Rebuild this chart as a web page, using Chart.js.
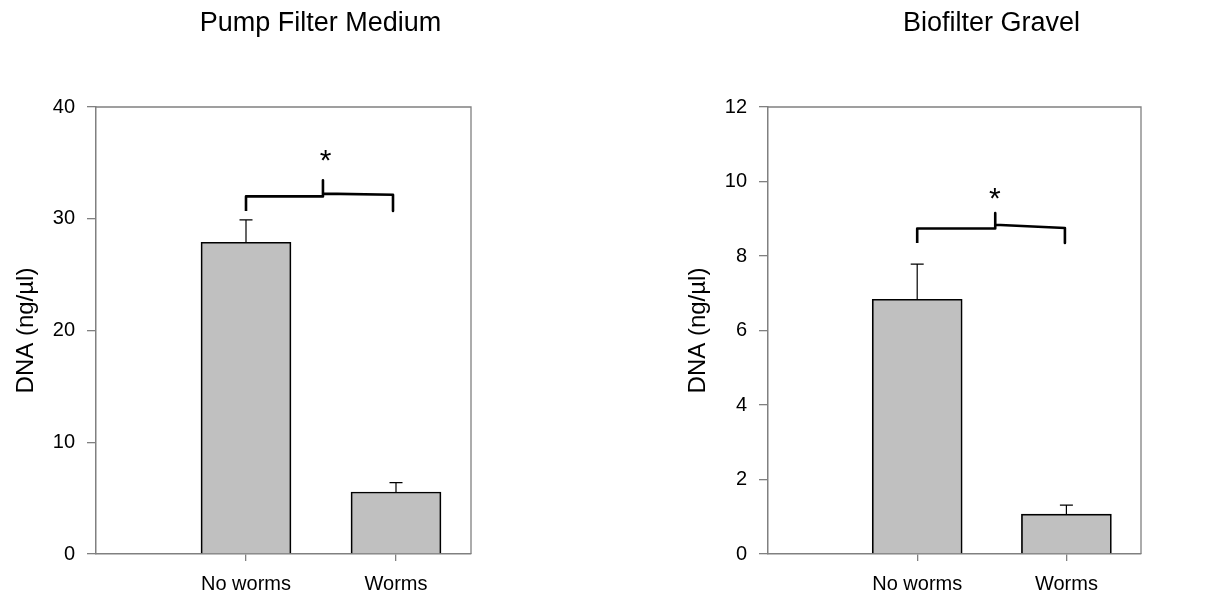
<!DOCTYPE html>
<html><head><meta charset="utf-8">
<script src="https://cdn.jsdelivr.net/npm/chart.js@4.4.0/dist/chart.umd.min.js"></script>
<style>
html,body{margin:0;padding:0;background:#fff;overflow:hidden}
#wrap{position:relative;width:1212px;height:595px}
canvas{position:absolute;top:0}
#c1{left:0}
#c2{left:606px}
</style></head><body>
<div id="wrap"><canvas id="c1" width="606" height="595"></canvas><canvas id="c2" width="606" height="595"></canvas></div>
<script>
// ---- data ----
const categories = ['No worms', 'Worms'];
const catPos = [1, 2];
const yTitle = 'DNA (ng/µl)';

const pumpTitle = 'Pump Filter Medium';
const pumpMeans = [27.9, 5.55];
const pumpErrors = [2.0, 0.83];
const pumpTicks = [0, 10, 20, 30, 40];
const pumpBracketX = [1, 1, 1.513, 1.513, 1.513, 1.98, 1.98];
const pumpBracketY = [30.7, 32.0, 32.0, 33.45, 32.25, 32.15, 30.7];
const pumpStar = [1.53, 35.7];

const gravelTitle = 'Biofilter Gravel';
const gravelMeans = [6.84, 1.07];
const gravelErrors = [0.94, 0.24];
const gravelTicks = [0, 2, 4, 6, 8, 10, 12];
const gravelBracketX = [1, 1, 1.523, 1.523, 1.523, 1.99, 1.99];
const gravelBracketY = [8.35, 8.74, 8.74, 9.15, 8.84, 8.75, 8.35];
const gravelStar = [1.52, 9.69];

// ---- rendering ----
const FONT = '"Liberation Sans", Arial, sans-serif';
Chart.defaults.font.family = FONT;
Chart.defaults.color = '#000';

const panelTitle = {
  id: 'panelTitle',
  afterDraw(chart, args, o) {
    const ctx = chart.ctx, ca = chart.chartArea;
    ctx.save();
    ctx.font = o.size + 'px ' + FONT;
    ctx.fillStyle = '#000';
    ctx.textAlign = 'center';
    ctx.textBaseline = 'alphabetic';
    ctx.fillText(o.text, (ca.left + ca.right) / 2 + o.offsetX, o.baseline);
    ctx.restore();
  }
};

const frame = {
  id: 'frame',
  beforeDatasetsDraw(chart, args, o) {
    const ctx = chart.ctx, ca = chart.chartArea;
    ctx.save();
    ctx.strokeStyle = o.color;
    ctx.lineWidth = o.width;
    ctx.beginPath();
    ctx.moveTo(ca.left, ca.top);
    ctx.lineTo(ca.right, ca.top);
    ctx.lineTo(ca.right, ca.bottom);
    ctx.stroke();
    ctx.restore();
  }
};

const errorBars = {
  id: 'errorBars',
  afterDatasetsDraw(chart, args, o) {
    const ctx = chart.ctx, xs = chart.scales.x, ys = chart.scales.y;
    ctx.save();
    ctx.strokeStyle = '#000';
    ctx.lineWidth = o.width;
    o.means.forEach((m, i) => {
      const px = xs.getPixelForValue(catPos[i]);
      const y0 = ys.getPixelForValue(m);
      const y1 = ys.getPixelForValue(m + o.errors[i]);
      ctx.beginPath();
      ctx.moveTo(px, y0); ctx.lineTo(px, y1);
      ctx.moveTo(px - o.cap, y1); ctx.lineTo(px + o.cap, y1);
      ctx.stroke();
    });
    ctx.restore();
  }
};

const star = {
  id: 'star',
  afterDatasetsDraw(chart, args, o) {
    const ctx = chart.ctx;
    const px = chart.scales.x.getPixelForValue(o.pos[0]);
    const py = chart.scales.y.getPixelForValue(o.pos[1]);
    ctx.save();
    ctx.font = o.size + 'px ' + FONT;
    ctx.fillStyle = '#000';
    ctx.textAlign = 'center';
    ctx.textBaseline = 'alphabetic';
    const m = ctx.measureText('*');
    const asc = m.actualBoundingBoxAscent, desc = m.actualBoundingBoxDescent;
    ctx.fillText('*', px, py + (asc - desc) / 2);
    ctx.restore();
  }
};

function makeChart(id, title, means, errors, ticks, bx, by, starPos, padLeft, padRight) {
  const yMax = ticks[ticks.length - 1];
  return new Chart(document.getElementById(id), {
    data: {
      datasets: [
        {
          type: 'bar',
          data: catPos.map((x, i) => ({x: x, y: means[i]})),
          backgroundColor: '#c0c0c0',
          borderColor: '#000',
          borderWidth: 1.7,
          barThickness: 90
        },
        {
          type: 'line',
          data: bx.map((x, i) => ({x: x, y: by[i]})),
          borderColor: '#000',
          borderWidth: 2.6,
          pointRadius: 0,
          fill: false,
          tension: 0,
          borderJoinStyle: 'round'
        }
      ]
    },
    options: {
      responsive: false,
      animation: false,
      devicePixelRatio: 1,
      layout: {padding: {top: 107, bottom: 0, left: padLeft, right: padRight}},
      plugins: {
        legend: {display: false},
        tooltip: {enabled: false},
        panelTitle: {text: title, size: 27, offsetX: 37, baseline: 31},
        frame: {color: '#808080', width: 1.3},
        errorBars: {means: means, errors: errors, cap: 6.5, width: 1.2},
        star: {pos: starPos, size: 30}
      },
      scales: {
        x: {
          type: 'linear', min: 0, max: 2.5, offset: false,
          afterBuildTicks: s => { s.ticks = catPos.map(v => ({value: v})); },
          ticks: {
            callback: v => { const i = catPos.indexOf(v); return i >= 0 ? categories[i] : ''; },
            font: {size: 20}, color: '#000', padding: 11, autoSkip: false, maxRotation: 0
          },
          grid: {offset: false, drawOnChartArea: false, drawTicks: true, tickLength: 7, color: '#808080', lineWidth: 1.3},
          border: {color: '#808080', width: 1.5},
          afterFit: s => { s.height = 41; }
        },
        y: {
          type: 'linear', min: 0, max: yMax,
          afterBuildTicks: s => { s.ticks = ticks.map(v => ({value: v})); },
          ticks: {font: {size: 20}, color: '#000', padding: 12},
          grid: {drawOnChartArea: false, drawTicks: true, tickLength: 9, color: '#808080', lineWidth: 1.3},
          border: {color: '#808080', width: 1.5},
          title: {display: true, text: yTitle, font: {size: 24}, color: '#000', padding: {top: 12, bottom: 0}},
          afterFit: s => { s.width = 96; }
        }
      }
    },
    plugins: [panelTitle, frame, errorBars, star]
  });
}

makeChart('c1', pumpTitle, pumpMeans, pumpErrors, pumpTicks, pumpBracketX, pumpBracketY, pumpStar, 0, 135);
makeChart('c2', gravelTitle, gravelMeans, gravelErrors, gravelTicks, gravelBracketX, gravelBracketY, gravelStar, 66, 71);
</script>
</body></html>
